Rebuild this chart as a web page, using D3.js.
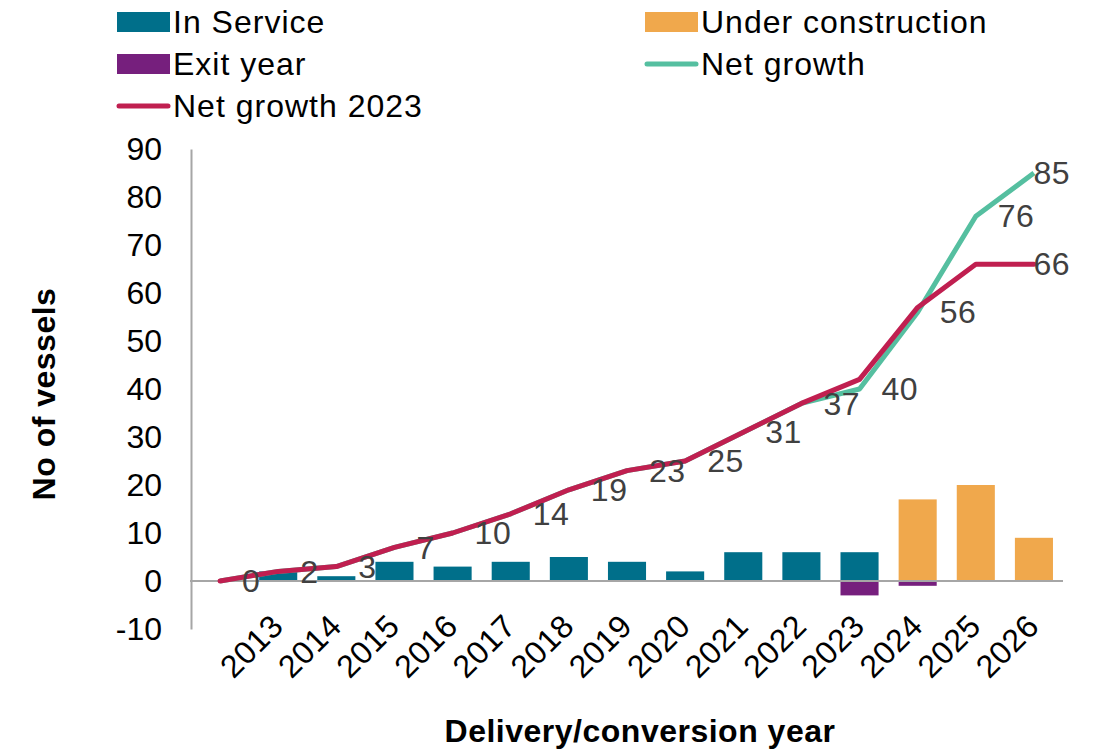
<!DOCTYPE html>
<html>
<head>
<meta charset="utf-8">
<script src="https://cdn.jsdelivr.net/npm/d3@7"></script>
<style>
  body { margin: 0; background: #fff; }
  svg text { font-family: "Liberation Sans", Arial, sans-serif; }
</style>
</head>
<body>
<svg width="1094" height="750"></svg>
<script>
// one empty slot before 2013 so the lines start at zero
var years = ["", "2013", "2014", "2015", "2016", "2017", "2018", "2019", "2020", "2021", "2022", "2023", "2024", "2025", "2026"];
var inService = [0, 2, 1, 4, 3, 4, 5, 4, 2, 6, 6, 6, 0, 0, 0];
var underConstruction = [0, 0, 0, 0, 0, 0, 0, 0, 0, 0, 0, 0, 17, 20, 9];
var exitYear = [0, 0, 0, 0, 0, 0, 0, 0, 0, 0, 0, -3, -1, 0, 0];
var netGrowth = [0, 2, 3, 7, 10, 14, 19, 23, 25, 31, 37, 40, 56, 76, 85];
var netGrowth2023 = [0, 2, 3, 7, 10, 14, 19, 23, 25, 31, 37, 42, 57, 66, 66];
var yTicks = [-10, 0, 10, 20, 30, 40, 50, 60, 70, 80, 90];

var colors = {
	service: "#006F8A",
	construction: "#F0A84C",
	exit: "#761F7D",
	net: "#55BFA0",
	net2023: "#C01F50"
};

var svg = d3.select("svg");
var plotLeft = 191, plotRight = 1063, plotTop = 149, plotBottom = 629;

var x = d3.scaleBand()
	.domain(d3.range(years.length))
	.range([plotLeft, plotRight]);
var barW = x.bandwidth() * 0.655;
var cx = i => x(i) + x.bandwidth() / 2;

var y = d3.scaleLinear()
	.domain([-10, 90])
	.range([plotBottom, plotTop]);

// y axis
var yAxis = svg.append("g")
	.attr("transform", "translate(" + plotLeft + ",0)")
	.call(d3.axisLeft(y).tickValues(yTicks).tickFormat(d => String(d)).tickSize(0).tickPadding(29));
yAxis.select(".domain").attr("stroke", "#A6A6A6").attr("stroke-width", 2);
yAxis.selectAll("text")
	.attr("font-size", 32)
	.attr("fill", "#000")
	.style("font-family", "Liberation Sans, Arial, sans-serif");

// bars
function bars(values, color) {
	svg.append("g")
		.selectAll("rect")
		.data(values.map((v, i) => ({ v: v, i: i })).filter(d => d.v !== 0))
		.enter()
		.append("rect")
		.attr("x", d => cx(d.i) - barW / 2)
		.attr("width", barW)
		.attr("y", d => y(Math.max(0, d.v)))
		.attr("height", d => Math.abs(y(d.v) - y(0)))
		.attr("fill", color);
}
bars(inService, colors.service);
bars(underConstruction, colors.construction);
bars(exitYear, colors.exit);

// zero line
svg.append("line")
	.attr("x1", plotLeft - 1).attr("x2", plotRight)
	.attr("y1", y(0)).attr("y2", y(0))
	.attr("stroke", "#A6A6A6")
	.attr("stroke-width", 2);

// x labels
svg.append("g")
	.selectAll("text")
	.data(years.map((t, i) => ({ t: t, i: i })).filter(d => d.t !== ""))
	.enter()
	.append("text")
	.attr("transform", d => "translate(" + (cx(d.i) + 7) + "," + (plotBottom - 1) + ") rotate(-45)")
	.attr("text-anchor", "end")
	.attr("font-size", 32)
	.attr("letter-spacing", 0.5)
	.text(d => d.t);

// lines
var line = d3.line()
	.x((d, i) => cx(i))
	.y(d => y(d));

svg.append("path")
	.datum(netGrowth)
	.attr("d", line)
	.attr("fill", "none")
	.attr("stroke", colors.net)
	.attr("stroke-width", 5)
	.attr("stroke-linejoin", "round");

svg.append("path")
	.datum(netGrowth2023)
	.attr("d", line)
	.attr("fill", "none")
	.attr("stroke", colors.net2023)
	.attr("stroke-width", 5)
	.attr("stroke-linejoin", "round")
	.attr("stroke-linecap", "round");

// data labels, placed right of the point, pushed inside near the edge
var labels = netGrowth.map((v, i) => ({ v: v, i: i }));
labels.push({ v: netGrowth2023[netGrowth2023.length - 1], i: netGrowth2023.length - 1 });

svg.append("g")
	.selectAll("text")
	.data(labels)
	.enter()
	.append("text")
	.attr("y", d => y(d.v))
	.attr("dy", "0.35em")
	.attr("font-size", 32)
	.attr("letter-spacing", 0.5)
	.attr("fill", "#404040")
	.text(d => d.v)
	.attr("x", function(d) {
		var w = this.getComputedTextLength();
		return Math.min(cx(d.i) + 22, 1070 - w);
	});

// axis titles
svg.append("text")
	.attr("x", 640)
	.attr("y", 742)
	.attr("text-anchor", "middle")
	.attr("font-size", 32)
	.attr("font-weight", "bold")
	.attr("letter-spacing", 0.5)
	.text("Delivery/conversion year");

svg.append("text")
	.attr("transform", "translate(55,394) rotate(-90)")
	.attr("text-anchor", "middle")
	.attr("font-size", 32)
	.attr("font-weight", "bold")
	.attr("letter-spacing", 0.5)
	.text("No of vessels");

// legend
var legend = [
	{ name: "In Service", color: colors.service, type: "rect", x: 117, y: 22 },
	{ name: "Under construction", color: colors.construction, type: "rect", x: 645, y: 22 },
	{ name: "Exit year", color: colors.exit, type: "rect", x: 117, y: 64 },
	{ name: "Net growth", color: colors.net, type: "line", x: 645, y: 64 },
	{ name: "Net growth 2023", color: colors.net2023, type: "line", x: 117, y: 106 }
];

var items = svg.append("g")
	.selectAll("g")
	.data(legend)
	.enter()
	.append("g")
	.attr("transform", d => "translate(" + d.x + "," + d.y + ")");

items.filter(d => d.type === "rect")
	.append("rect")
	.attr("x", 0).attr("y", -10)
	.attr("width", 53).attr("height", 20)
	.attr("fill", d => d.color);

items.filter(d => d.type === "line")
	.append("line")
	.attr("x1", 2).attr("x2", 51)
	.attr("stroke", d => d.color)
	.attr("stroke-width", 5)
	.attr("stroke-linecap", "round");

items.append("text")
	.attr("x", 56)
	.attr("dy", "0.35em")
	.attr("font-size", 32)
	.attr("letter-spacing", 1)
	.text(d => d.name);
</script>
</body>
</html>
